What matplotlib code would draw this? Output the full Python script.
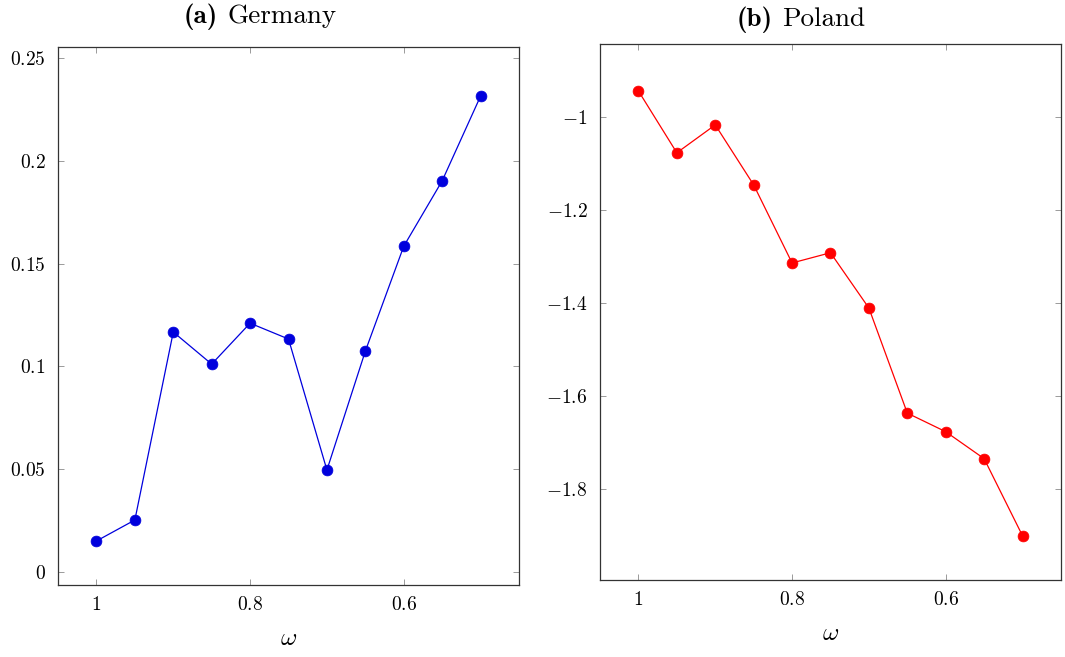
import matplotlib
matplotlib.use("Agg")
import matplotlib.pyplot as plt
from matplotlib.ticker import FixedLocator, FuncFormatter

# omega values shared by both panels
omega = [1.0, 0.95, 0.9, 0.85, 0.8, 0.75, 0.7, 0.65, 0.6, 0.55, 0.5]

germany = [0.0151, 0.0253, 0.1167, 0.1011, 0.1210, 0.1133, 0.0496, 0.1074, 0.1584, 0.1902, 0.2314]
poland = [-0.944, -1.077, -1.017, -1.146, -1.314, -1.292, -1.411, -1.637, -1.677, -1.735, -1.901]

x_ticks = [1.0, 0.8, 0.6]
germany_ticks = [0, 0.05, 0.1, 0.15, 0.2, 0.25]
poland_ticks = [-1.0, -1.2, -1.4, -1.6, -1.8]

plt.rcParams["font.family"] = "cmr10"
plt.rcParams["mathtext.fontset"] = "cm"
plt.rcParams["axes.unicode_minus"] = True

TICK_SIZE = 14
TITLE_SIZE = 19.5


def fmt(v, pos=None):
    return "$%g$" % round(v, 4)


def setup(ax, yticks, ylim):
    ax.set_xlim(1.05, 0.45)
    ax.set_ylim(*ylim)
    ax.xaxis.set_major_locator(FixedLocator(x_ticks))
    ax.yaxis.set_major_locator(FixedLocator(yticks))
    ax.xaxis.set_major_formatter(FuncFormatter(fmt))
    ax.yaxis.set_major_formatter(FuncFormatter(fmt))
    ax.tick_params(direction="in", length=4.5, width=0.6, color="#8a8a8a",
                   top=True, right=True, labelsize=TICK_SIZE)
    ax.tick_params(axis="y", pad=9)
    ax.tick_params(axis="x", pad=8)
    for sp in ax.spines.values():
        sp.set_linewidth(0.9)
        sp.set_color("#333333")
    ax.set_xlabel(r"$\omega$", fontsize=18, labelpad=10)


def caption(fig, label, name, xc, ybase, gap=9):
    # bold "(a)" followed by the roman panel name, centred on xc (pixels)
    r = fig.canvas.get_renderer()
    W, H = fig.bbox.width, fig.bbox.height
    t1 = fig.text(0, 0, label, family="cmb10", fontsize=TITLE_SIZE, va="baseline")
    t2 = fig.text(0, 0, name, family="cmr10", fontsize=TITLE_SIZE, va="baseline")
    w1 = t1.get_window_extent(r).width
    w2 = t2.get_window_extent(r).width
    x0 = xc - (w1 + gap + w2) / 2
    y = 1 - ybase / H
    t1.set_position((x0 / W, y))
    t2.set_position(((x0 + w1 + gap) / W, y))


fig = plt.figure(figsize=(10.65, 6.57), dpi=100)
ax1 = fig.add_axes([0.0545, 0.1096, 0.4328, 0.8189])
ax2 = fig.add_axes([0.5634, 0.1172, 0.4328, 0.8158])

ax1.plot(omega, germany, color="#0000dd", lw=0.9, marker="o",
         markersize=7.8, markeredgewidth=0.5)
setup(ax1, germany_ticks, (-0.0063, 0.2553))

ax2.plot(omega, poland, color="#ff0000", lw=0.9, marker="o",
         markersize=7.8, markeredgewidth=0.5)
setup(ax2, poland_ticks, (-1.996, -0.843))

caption(fig, "(a)", "Germany", 260, 23)
caption(fig, "(b)", "Poland", 801, 26)

fig.savefig("out.png", dpi=100)
